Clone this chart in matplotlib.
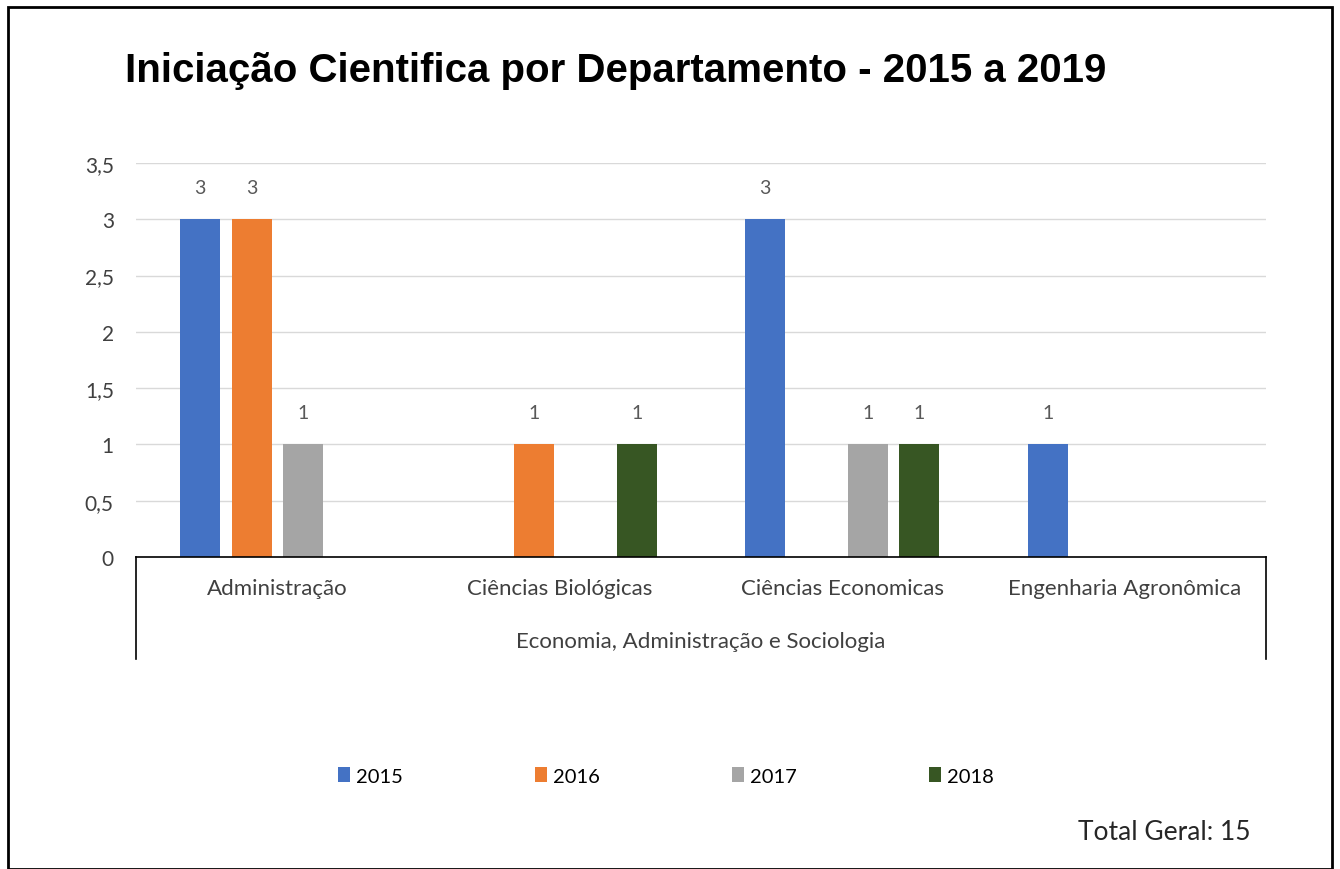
import numpy as np
import matplotlib.pyplot as plt
from matplotlib.patches import Rectangle
from matplotlib.transforms import blended_transform_factory

# Data
departamentos = ['Administração', 'Ciências Biológicas', 'Ciências Economicas', 'Engenharia Agronômica']
grupo = 'Economia, Administração e Sociologia'
anos = ['2015', '2016', '2017', '2018']
v2015 = [3, 0, 3, 1]
v2016 = [3, 1, 0, 0]
v2017 = [1, 0, 1, 0]
v2018 = [0, 1, 1, 0]
cores = ['#4472C4', '#ED7D31', '#A5A5A5', '#375623']
total_geral = 15

series = [v2015, v2016, v2017, v2018]

plt.rcParams['font.family'] = ['Lato', 'DejaVu Sans']

fig = plt.figure(figsize=(13.4, 8.7), dpi=100)
ax = fig.add_axes([0.1015, 0.3586, 0.8433, 0.4529])

x = np.arange(len(departamentos))
largura = 0.1416
passo = 0.182
bars = []
for i, (vals, cor, ano) in enumerate(zip(series, cores, anos)):
    pos = x + (i - 1.5) * passo
    b = ax.bar(pos, vals, width=largura, color=cor, label=ano, zorder=3)
    bars.append(b)
    for xp, v in zip(pos, vals):
        if v > 0:
            ax.text(xp, v + 0.28, str(v), ha='center', va='center',
                    fontsize=14, color='#595959')

ax.set_xlim(-0.5, len(departamentos) - 0.5)
ax.set_ylim(0, 3.5)
yt = np.arange(0, 3.51, 0.5)
ax.set_yticks(yt)
ax.set_yticklabels([f'{t:g}'.replace('.', ',') for t in yt], fontsize=15, color='#404040')
ax.grid(axis='y', color='#D9D9D9', linewidth=1, zorder=0)
ax.tick_params(axis='y', length=0, pad=16)
ax.tick_params(axis='x', length=0, pad=15)
ax.set_xticks(x)
ax.set_xticklabels(departamentos, fontsize=16, color='#404040')

for s in ['left', 'right', 'top']:
    ax.spines[s].set_visible(False)
ax.spines['bottom'].set_color('black')
ax.spines['bottom'].set_linewidth(1.2)
ax.spines['bottom'].set_zorder(4)

# lines for the multi-level category axis
tr = blended_transform_factory(ax.transAxes, ax.transAxes)
for xa in [0, 1]:
    ax.plot([xa, xa], [0, -0.259], transform=tr, color='black', linewidth=1.2, clip_on=False)
ax.text(0.5, -0.213, grupo, transform=tr, ha='center', va='center',
        fontsize=16, color='#404040')

fig.text(0.093, 0.918, 'Iniciação Cientifica por Departamento - 2015 a 2019',
         fontsize=29, fontweight='bold', family='Liberation Sans', va='center', ha='left')

fig.legend(handles=bars, labels=anos, loc='center', bbox_to_anchor=(0.497, 0.107),
           ncol=4, frameon=False, fontsize=14.5, columnspacing=6.55,
           handlelength=0.6, handleheight=0.8, handletextpad=0.3)

fig.text(0.933, 0.043, f'Total Geral: {total_geral}', fontsize=19, ha='right', va='center',
         color='#262626')

fig.patches.append(Rectangle((0.006, 0.0), 0.988, 0.991, transform=fig.transFigure,
                             fill=False, edgecolor='black', linewidth=2))

fig.savefig('out.png', dpi=100)
